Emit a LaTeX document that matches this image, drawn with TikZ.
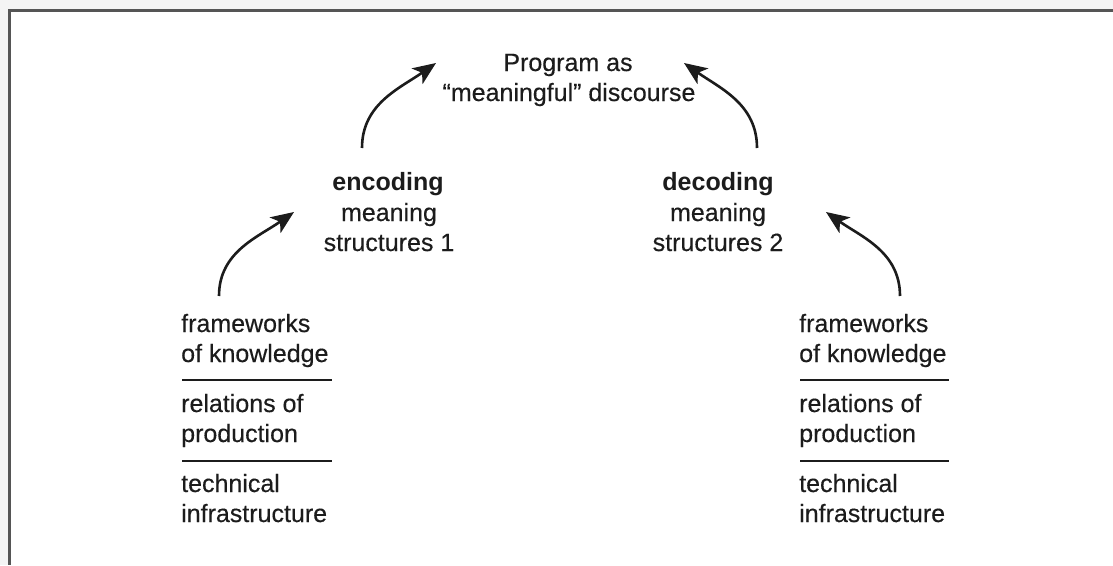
\documentclass[tikz,border=0pt]{standalone}
\usepackage{fontspec}
\setmainfont{Liberation Sans}
\newfontfamily\heavyreg[FakeBold=0.3]{Liberation Sans}
\usetikzlibrary{arrows.meta}
\definecolor{ink}{HTML}{1C1C1C}
\definecolor{framegray}{HTML}{555555}
\definecolor{margin}{HTML}{F4F4F4}
\begin{document}
\begin{tikzpicture}[x=1pt,y=-1pt,
  txt/.style={inner sep=0pt, anchor=base, font=\fontsize{25}{30}\selectfont\heavyreg, text=ink},
  ltxt/.style={txt, anchor=base west},
  boldtxt/.style={txt, font=\fontsize{25}{30}\selectfont\bfseries},
  arr/.style={draw=ink, line width=2.6pt, -{Stealth[length=23pt,width=19pt,inset=6pt]}},
  sepline/.style={draw=ink, line width=1.8pt},
  framestyle/.style={draw=framegray, line width=2.4pt}]
\useasboundingbox (0,0) rectangle (1113,565);
\fill[margin] (0,0) rectangle (1113,565);
\fill[white] (9.5,10.3) rectangle (1113,565);
\coordinate (fTL) at (9.5,10.3);
\coordinate (fTR) at (1113,10.3);
\coordinate (fBL) at (9.5,565);
\draw[framestyle] (fTR) -- (fTL) -- (fBL);

% top
\node[txt] (prog1) at (568,71) {Program as};
\node[txt] (prog2) at (569,101) {“meaningful” discourse};

% encoding
\node[boldtxt] (enc1) at (388,190) {encoding};
\node[txt] (enc2) at (389,221) {meaning};
\node[txt] (enc3) at (389,251) {structures 1};

% decoding
\node[boldtxt] (dec1) at (718,190) {decoding};
\node[txt] (dec2) at (718,221) {meaning};
\node[txt] (dec3) at (718,251) {structures 2};

% left stack
\node[ltxt] (lA1) at (181,332) {frameworks};
\node[ltxt] (lA2) at (181,362) {of knowledge};
\node[ltxt] (lB1) at (181,412) {relations of};
\node[ltxt] (lB2) at (181,442) {production};
\node[ltxt] (lC1) at (181,492) {technical};
\node[ltxt] (lC2) at (181,522) {infrastructure};
\coordinate (lL1a) at (182,380); \coordinate (lL1b) at (332,380);
\coordinate (lL2a) at (182,461); \coordinate (lL2b) at (332,461);
\draw[sepline] (lL1a) -- (lL1b);
\draw[sepline] (lL2a) -- (lL2b);

% right stack
\node[ltxt] (rA1) at (799,332) {frameworks};
\node[ltxt] (rA2) at (799,362) {of knowledge};
\node[ltxt] (rB1) at (799,412) {relations of};
\node[ltxt] (rB2) at (799,442) {production};
\node[ltxt] (rC1) at (799,492) {technical};
\node[ltxt] (rC2) at (799,522) {infrastructure};
\coordinate (rL1a) at (800,380); \coordinate (rL1b) at (949,380);
\coordinate (rL2a) at (800,461); \coordinate (rL2b) at (949,461);
\draw[sepline] (rL1a) -- (rL1b);
\draw[sepline] (rL2a) -- (rL2b);

% arrows
\coordinate (a1s) at (219,296); \coordinate (a1e) at (294,212);
\coordinate (a2s) at (362,148); \coordinate (a2e) at (436,63);
\coordinate (a3s) at (757,148); \coordinate (a3e) at (684,63);
\coordinate (a4s) at (900,296); \coordinate (a4e) at (826,212);
\draw[arr] (a1s) to[out=90,in=215] (a1e);
\draw[arr] (a2s) to[out=90,in=215] (a2e);
\draw[arr] (a3s) to[out=90,in=-35] (a3e);
\draw[arr] (a4s) to[out=90,in=-35] (a4e);
\end{tikzpicture}
\end{document}
